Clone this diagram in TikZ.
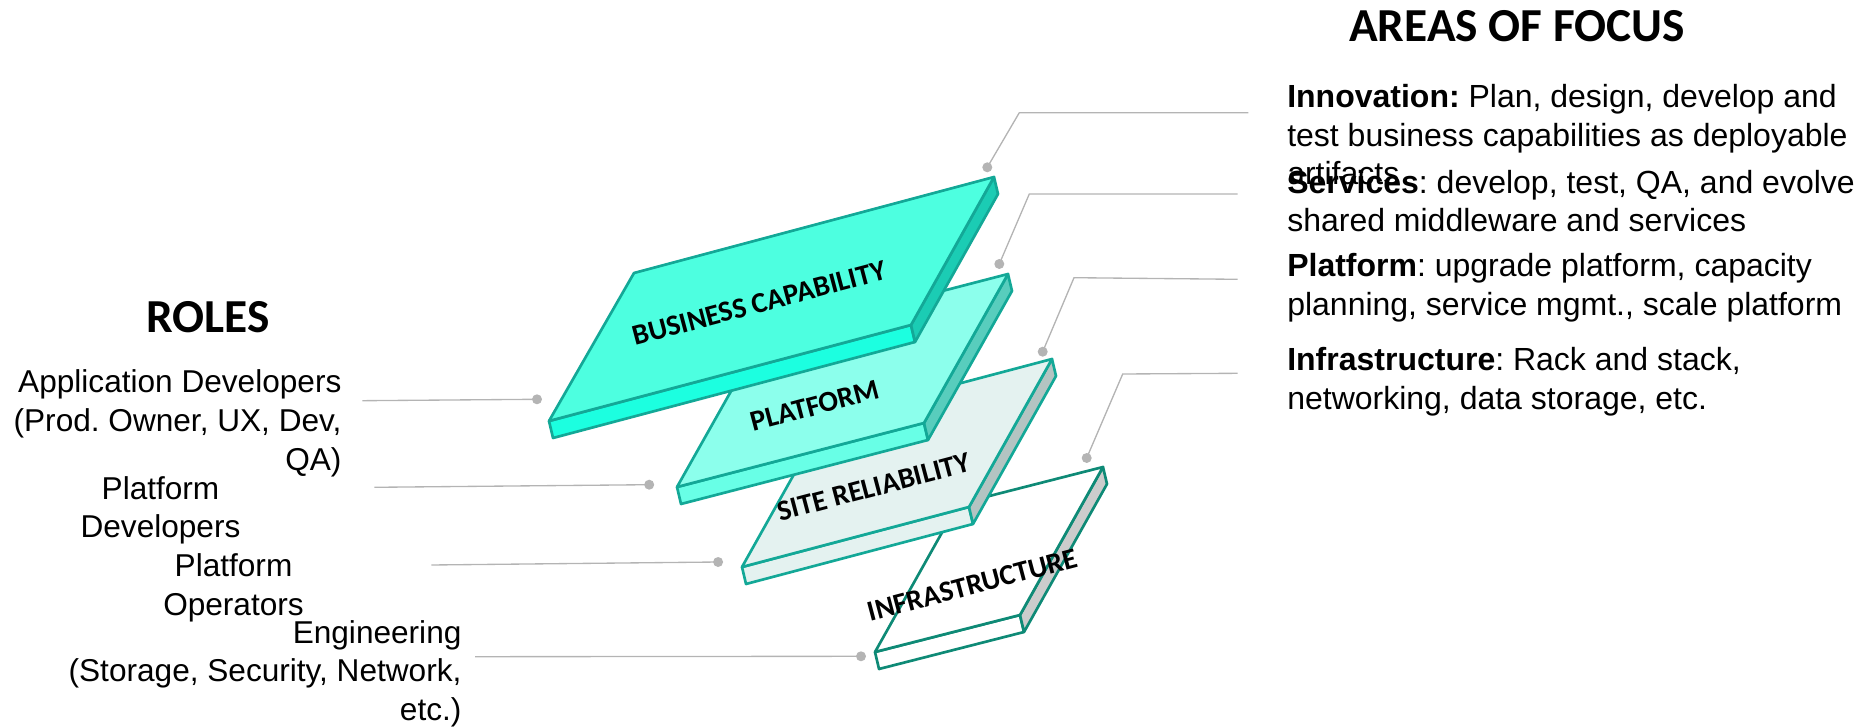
\documentclass[tikz,border=0pt]{standalone}
\usepackage{fontspec}
\setmainfont{Liberation Sans}
\newfontfamily\headfont{Carlito}
\frenchspacing

% layer colours
\definecolor{bcTop}{HTML}{4DFFE0}
\definecolor{bcFront}{HTML}{1CFFE0}
\definecolor{bcSide}{HTML}{1BCCB4}
\definecolor{plTop}{HTML}{8CFFEC}
\definecolor{plFront}{HTML}{68FFE6}
\definecolor{plSide}{HTML}{58CDBD}
\definecolor{srTop}{HTML}{E4F2F0}
\definecolor{srSide}{HTML}{B3C4C2}
\definecolor{inSide}{HTML}{CCCCCC}
\definecolor{edgeTeal}{HTML}{13A897}
\definecolor{edgeDark}{HTML}{0E8A76}
\definecolor{connGray}{HTML}{B4B4B4}

% one layer: front face, side face and top face of a thin slab
% #1 coordinate prefix, #2 top, #3 front, #4 side, #5 edge colour
\newcommand\drawslab[5]{%
  \path[slabedge, draw=#5, fill=#3] (#1A) -- (#1B) -- ([shift={(4,17)}]#1B) -- ([shift={(4,17)}]#1A) -- cycle;
  \path[slabedge, draw=#5, fill=#4] (#1B) -- (#1C) -- ([shift={(4,17)}]#1C) -- ([shift={(4,17)}]#1B) -- cycle;
  \path[slabedge, draw=#5, fill=#2] (#1A) -- (#1B) -- (#1C) -- (#1D) -- cycle;
}

\begin{document}
\begin{tikzpicture}[x=0.75pt, y=-0.75pt,
  slabedge/.style={line width=2pt, line join=round},
  slablabel/.style={font={\headfont\bfseries\fontsize{21.75}{26}\selectfont}, rotate=14.8, inner sep=0pt},
  heading/.style={font={\headfont\bfseries\fontsize{35.5}{42}\selectfont}, inner sep=0pt},
  rolestext/.style={font={\fontsize{23.7}{29}\selectfont}, inner sep=0pt},
  focustext/.style={font={\fontsize{24}{28.8}\selectfont}, inner sep=0pt},
  conn/.style={draw=connGray, line width=1pt},
  dot/.style={circle, fill=connGray, inner sep=0pt, minimum size=7.5pt}]

\useasboundingbox (0,0) rectangle (1864,727);

% ---- connectors from the roles ----
\coordinate (la1) at (362.4,400.7);
\coordinate (la2) at (374.4,487.3);
\coordinate (la3) at (431.3,565);
\coordinate (la4) at (475,656.7);
\node[dot] (ld1) at (537,399.3) {};
\node[dot] (ld2) at (649.2,484.7) {};
\node[dot] (ld3) at (718.1,562) {};
\node[dot] (ld4) at (861,656.3) {};
\draw[conn] (la1) -- (ld1.center);
\draw[conn] (la2) -- (ld2.center);
\draw[conn] (la3) -- (ld3.center);
\draw[conn] (la4) -- (ld4.center);

% ---- connectors to the areas of focus ----
\node[dot] (rd1) at (987.3,167.3) {};
\node[dot] (rd2) at (999.3,264) {};
\node[dot] (rd3) at (1042.7,351.7) {};
\node[dot] (rd4) at (1086.7,458) {};
\coordinate (rk1) at (1019.3,112.7);
\coordinate (rk2) at (1029.3,194);
\coordinate (rk3) at (1074,277.7);
\coordinate (rk4) at (1122.7,374);
\coordinate (re1) at (1248.3,112.7);
\coordinate (re2) at (1237.7,194);
\coordinate (re3) at (1237.7,279.3);
\coordinate (re4) at (1237.7,373.3);
\draw[conn] (re1) -- (rk1) -- (rd1.center);
\draw[conn] (re2) -- (rk2) -- (rd2.center);
\draw[conn] (re3) -- (rk3) -- (rd3.center);
\draw[conn] (re4) -- (rk4) -- (rd4.center);

% ---- layer corners: A front-left, B front-right, C back-right, D back-left ----
\coordinate (inA) at (875,652);  \coordinate (inB) at (1020,615);
\coordinate (inC) at (1103,467); \coordinate (inD) at (958,504);
\coordinate (srA) at (742,567);  \coordinate (srB) at (969,507);
\coordinate (srC) at (1052,359); \coordinate (srD) at (825,419);
\coordinate (plA) at (677,487);  \coordinate (plB) at (924,423);
\coordinate (plC) at (1008,274); \coordinate (plD) at (761,338);
\coordinate (bcA) at (549,421);  \coordinate (bcB) at (911,325);
\coordinate (bcC) at (994,177);  \coordinate (bcD) at (634,273);

% ---- layers, bottom to top ----
\drawslab{in}{white}{white}{inSide}{edgeDark}
\node[slablabel] (infra) at (972.5,585) {INFRASTRUCTURE};

\drawslab{sr}{srTop}{srTop}{srSide}{edgeTeal}
\node[slablabel] (siterel) at (874,487) {SITE RELIABILITY};

\drawslab{pl}{plTop}{plFront}{plSide}{edgeTeal}
\node[slablabel] (platform) at (815,406) {PLATFORM};

\drawslab{bc}{bcTop}{bcFront}{bcSide}{edgeTeal}
\node[slablabel] (buscap) at (759,303.3) {BUSINESS CAPABILITY};

% ---- headings ----
\node[heading, anchor=base] (roles) at (208,332.7) {ROLES};
\node[heading, anchor=base] (focus) at (1517,41.7) {AREAS OF FOCUS};

% ---- roles ----
\node[rolestext, anchor=base east] (appdev) at (341.7,392.7)
  {\begin{tabular}[t]{@{}r@{}}Application Developers\\(Prod. Owner, UX, Dev,\\QA)\end{tabular}};
\node[rolestext, anchor=base] (platdev) at (160.5,499.3)
  {\begin{tabular}[t]{@{}c@{}}Platform\\Developers\end{tabular}};
\node[rolestext, anchor=base] (platops) at (233.5,576.7)
  {\begin{tabular}[t]{@{}c@{}}Platform\\Operators\end{tabular}};
\node[rolestext, anchor=base east] (eng) at (461.7,643.3)
  {\begin{tabular}[t]{@{}r@{}}Engineering\\(Storage, Security, Network,\\etc.)\end{tabular}};

% ---- areas of focus ----
\node[focustext, anchor=base west] (innov) at (1287,108)
  {\begin{tabular}[t]{@{}l@{}}\textbf{Innovation:} Plan, design, develop and\\test business capabilities as deployable\\artifacts\end{tabular}};
\node[focustext, anchor=base west] (serv) at (1287,193.3)
  {\begin{tabular}[t]{@{}l@{}}\textbf{Services}: develop, test, QA, and evolve\\shared middleware and services\end{tabular}};
\node[focustext, anchor=base west] (plat) at (1287,277)
  {\begin{tabular}[t]{@{}l@{}}\textbf{Platform}: upgrade platform, capacity\\planning, service mgmt., scale platform\end{tabular}};
\node[focustext, anchor=base west] (infr) at (1287,370.7)
  {\begin{tabular}[t]{@{}l@{}}\textbf{Infrastructure}: Rack and stack,\\networking, data storage, etc.\end{tabular}};

\end{tikzpicture}
\end{document}
